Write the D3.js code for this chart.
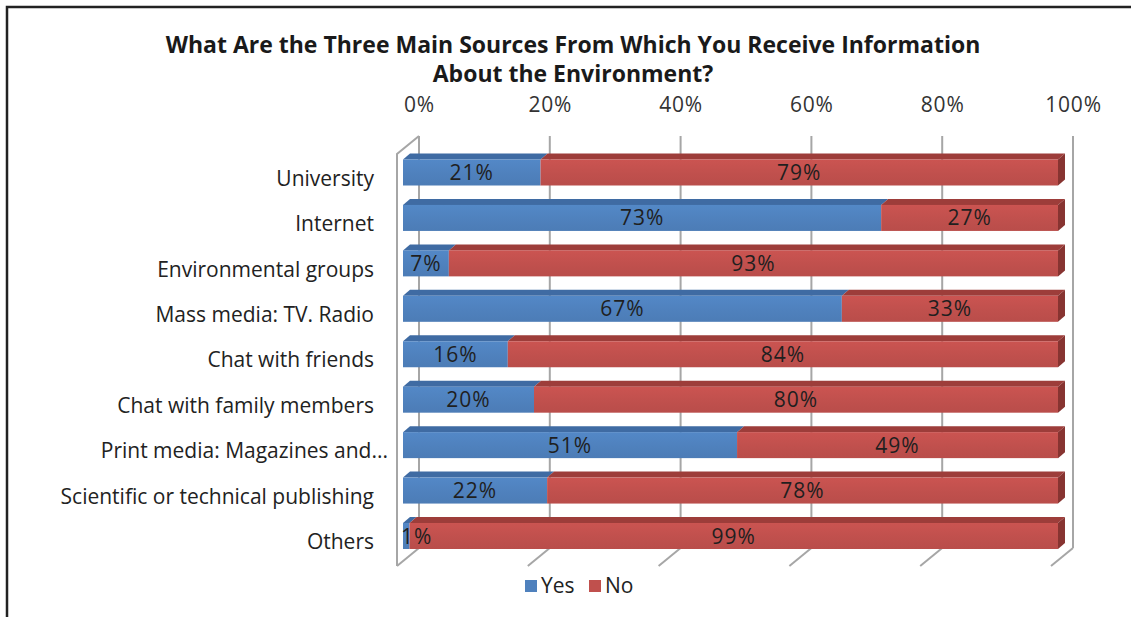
<!DOCTYPE html>
<html>
<head>
<meta charset="utf-8">
<script src="https://cdn.jsdelivr.net/npm/d3@7"></script>
<style>
  html, body { margin: 0; padding: 0; background: #fff; }
  svg { display: block; }
  text { font-family: "Open Sans", "Noto Sans", sans-serif; fill: #222; }
</style>
</head>
<body>
<svg id="chart" width="1131" height="617"></svg>
<script>
// Survey answers: share of respondents naming each source (Yes) or not (No)
const categories = [
  "University",
  "Internet",
  "Environmental groups",
  "Mass media: TV. Radio",
  "Chat with friends",
  "Chat with family members",
  "Print media: Magazines and...",
  "Scientific or technical publishing",
  "Others"
];
const yesValues = [21, 73, 7, 67, 16, 20, 51, 22, 1];
const noValues  = [79, 27, 93, 33, 84, 80, 49, 78, 99];
const tickValues = [0, 20, 40, 60, 80, 100];
const seriesNames = ["Yes", "No"];
const titleLines = [
  "What Are the Three Main Sources From Which You Receive Information",
  "About the Environment?"
];

const colors = {
  Yes: { front: "#4f81bd", top: "#3f6ba3", side: "#36608f" },
  No:  { front: "#c0504d", top: "#9d3d3a", side: "#873431" }
};

const svg = d3.select("#chart");

// Outer frame (left and top edges)
svg.append("path")
  .attr("d", "M7,617 V7 H1131")
  .attr("fill", "none")
  .attr("stroke", "#222")
  .attr("stroke-width", 2.5);

// Perspective: floor front edge, bar plane and back wall
const depth = { dx: 22, dy: -18 };
const barDepth = { dx: 7, dy: -6 };
const xFront = d3.scaleLinear().domain([0, 100]).range([397, 1051]);
const xBack  = d3.scaleLinear().domain([0, 100]).range([397 + depth.dx, 1051 + depth.dx]);
const xBar   = d3.scaleLinear().domain([0, 100]).range([403, 1058]);
const floorY = 566;
const wallTopFront = 154;

const y = d3.scalePoint().domain(categories).range([172.5, 536]);
const barH = 26;

// Title
svg.append("g").selectAll("text")
  .data(titleLines)
  .join("text")
  .attr("x", 573)
  .attr("y", (d, i) => 53 + i * 29)
  .attr("text-anchor", "middle")
  .style("font-weight", "bold")
  .style("font-size", "23px")
  .style("fill", "#1a1a1a")
  .text(d => d);

// Back wall gridlines
const walls = svg.append("g")
  .attr("fill", "none")
  .attr("stroke", "#a6a6a6")
  .attr("stroke-width", 2);

walls.selectAll("line.grid")
  .data(tickValues)
  .join("line")
  .attr("class", "grid")
  .attr("x1", d => xBack(d)).attr("x2", d => xBack(d))
  .attr("y1", wallTopFront + depth.dy)
  .attr("y2", floorY + depth.dy);

// Floor ticks running from back wall to the front edge
walls.selectAll("line.floor")
  .data(tickValues)
  .join("line")
  .attr("class", "floor")
  .attr("x1", d => xBack(d)).attr("y1", floorY + depth.dy)
  .attr("x2", d => xFront(d)).attr("y2", floorY);

// Left side wall outline
walls.append("path")
  .attr("d", `M${xBack(0)},${wallTopFront + depth.dy} L${xFront(0)},${wallTopFront} V${floorY}`);

// Top axis with percentage labels
const xAxis = d3.axisTop(xBack)
  .tickValues(tickValues)
  .tickFormat(d => d + "%")
  .tickSize(0)
  .tickPadding(0);

svg.append("g")
  .attr("transform", "translate(0,112)")
  .call(xAxis)
  .call(g => g.select(".domain").remove())
  .call(g => g.selectAll("text")
    .style("font-size", "21px")
    .style("letter-spacing", "0.8px")
    .style("fill", "#333")
    .style("font-family", "\"Open Sans\", sans-serif"));

// Category axis (labels sit on the front floor plane, slightly below bar centres)
const yAxis = d3.axisLeft(y).tickSize(0).tickPadding(6);
svg.append("g")
  .attr("transform", "translate(380,6)")
  .call(yAxis)
  .call(g => g.select(".domain").remove())
  .call(g => g.selectAll("text")
    .style("font-size", "21px")
    .style("fill", "#222")
    .style("font-family", "\"Open Sans\", sans-serif")
    // truncated labels let their ellipsis run past the label column
    .attr("x", d => d.endsWith("...") ? 8 : -6));

// Stacked segments
const rows = categories.map((c, i) => {
  const segs = [];
  let acc = 0;
  [yesValues[i], noValues[i]].forEach((v, k) => {
    segs.push({ cat: c, key: seriesNames[k], value: v, x0: acc, x1: acc + v });
    acc += v;
  });
  return { cat: c, segs, total: acc };
});

const defs = svg.append("defs");
seriesNames.forEach(k => {
  const g = defs.append("linearGradient")
    .attr("id", "grad-" + k)
    .attr("x1", 0).attr("y1", 0).attr("x2", 0).attr("y2", 1);
  g.append("stop").attr("offset", "0%").attr("stop-color", d3.color(colors[k].front).brighter(0.15));
  g.append("stop").attr("offset", "55%").attr("stop-color", colors[k].front);
  g.append("stop").attr("offset", "100%").attr("stop-color", d3.color(colors[k].front).darker(0.1));
});

const bars = svg.append("g");
const rowG = bars.selectAll("g.row")
  .data(rows)
  .join("g")
  .attr("class", "row");

// Top faces
rowG.selectAll("path.top")
  .data(d => d.segs)
  .join("path")
  .attr("class", "top")
  .attr("fill", d => colors[d.key].top)
  .attr("d", d => {
    const yt = y(d.cat) - barH / 2;
    const a = xBar(d.x0), b = xBar(d.x1);
    return `M${a},${yt} L${a + barDepth.dx},${yt + barDepth.dy} L${b + barDepth.dx},${yt + barDepth.dy} L${b},${yt} Z`;
  });

// Right end face of the last segment
rowG.append("path")
  .attr("class", "side")
  .attr("fill", d => colors[d.segs[d.segs.length - 1].key].side)
  .attr("d", d => {
    const yt = y(d.cat) - barH / 2;
    const b = xBar(d.total);
    return `M${b},${yt} L${b + barDepth.dx},${yt + barDepth.dy} L${b + barDepth.dx},${yt + barDepth.dy + barH} L${b},${yt + barH} Z`;
  });

// Front faces
rowG.selectAll("rect.front")
  .data(d => d.segs)
  .join("rect")
  .attr("class", "front")
  .attr("x", d => xBar(d.x0))
  .attr("y", d => y(d.cat) - barH / 2)
  .attr("width", d => xBar(d.x1) - xBar(d.x0))
  .attr("height", barH)
  .attr("fill", d => `url(#grad-${d.key})`);

// Value labels centred on each segment
rowG.selectAll("text.value")
  .data(d => d.segs)
  .join("text")
  .attr("class", "value")
  .attr("y", d => y(d.cat))
  .attr("dy", "0.36em")
  .attr("text-anchor", "middle")
  .style("font-size", "21px")
  .style("letter-spacing", "1px")
  .style("fill", "#1f1f1f")
  .text(d => d.value + "%")
  .attr("x", function (d) {
    const c = (xBar(d.x0) + xBar(d.x1)) / 2;
    const w = this.getComputedTextLength();
    return Math.max(c, xBar(0) + w / 2 - 2);
  });

// Legend
const legend = svg.append("g").attr("transform", "translate(525,586)");
const legendX = [0, 64];
const lg = legend.selectAll("g")
  .data(seriesNames)
  .join("g")
  .attr("transform", (d, i) => `translate(${legendX[i]},0)`);
lg.append("rect")
  .attr("x", 0).attr("y", -6)
  .attr("width", 12).attr("height", 12)
  .attr("fill", d => colors[d].front);
lg.append("text")
  .attr("x", 16).attr("dy", "0.35em")
  .style("font-size", "21px")
  .style("fill", "#222")
  .text(d => d);
</script>
</body>
</html>
